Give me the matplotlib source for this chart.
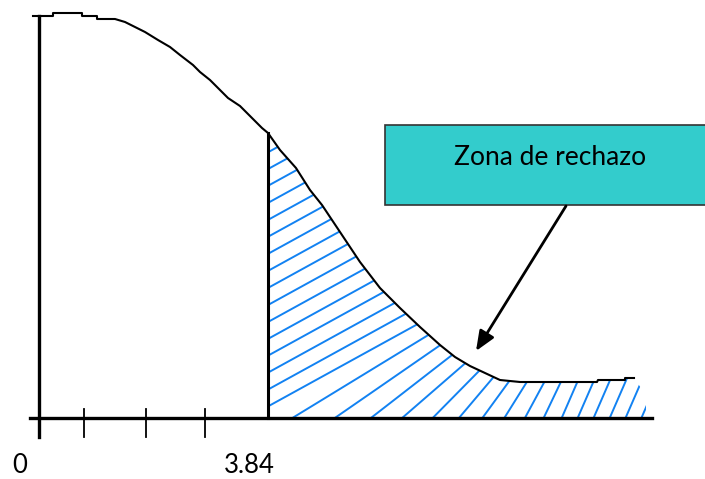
import numpy as np
import matplotlib.pyplot as plt
from matplotlib.patches import Polygon, Rectangle

curve_x = [33, 53, 53, 82, 82, 97, 97, 115, 125, 135, 145, 158, 170, 180, 193, 200, 210,
           220, 228, 240, 252, 262, 268, 280, 296, 310, 322, 340, 360, 380, 400, 420,
           440, 455, 470, 485, 500, 520, 597, 598, 625, 625, 634]
curve_y = [16, 16, 13, 13, 16, 16, 19, 19, 22, 27, 32, 40, 47, 55, 65, 72, 80,
           90, 98, 106, 118, 128, 133, 150, 168, 190, 205, 232, 262, 288, 308, 327,
           345, 357, 366, 373, 380, 382, 382, 380, 380, 378, 378]

critical_x = 268          # position of 3.84
baseline_y = 418
axis_x = 39
tick_x = [39, 84, 146, 205]
tick_labels = ['0', '3.84']
tick_label_x = [20, 249]
box_text = 'Zona de rechazo'

# hatch slope (rise/run) against x of where the hatch line meets the curve
hatch_slope_x = [420, 470, 520, 575]
hatch_slope_s = [0.55, 0.9, 1.5, 2.3]
hatch_gap = 14.5
hatch_color = '#1282F2'

fig = plt.figure(figsize=(7.05, 4.79), dpi=100)
ax = fig.add_axes([0, 0, 1, 1])
ax.set_xlim(0, 705)
ax.set_ylim(479, 0)
ax.axis('off')

# rejection region: curve right of 3.84 plus the small hatched tail
cx = np.array(curve_x, dtype=float)
cy = np.array(curve_y, dtype=float)
keep = cx >= critical_x
top_x = np.concatenate([cx[keep], [641, 646, 646]])
top_y = np.concatenate([cy[keep], [388, 400, baseline_y]])
poly_pts = [(critical_x, baseline_y)] + list(zip(top_x, top_y))
region = Polygon(poly_pts, closed=True, facecolor='none', edgecolor='none')
ax.add_patch(region)

# dense walk along the upper edge, dropping a hatch line every hatch_gap
seg_len = np.hypot(np.diff(top_x), np.diff(top_y))
arc = np.concatenate([[0], np.cumsum(seg_len)])
walk = np.arange(2, arc[-1], 0.5)
wx = np.interp(walk, arc, top_x)
wy = np.interp(walk, arc, top_y)

last = None
for px, py in zip(wx, wy):
    s = np.interp(px, hatch_slope_x, hatch_slope_s)
    d = np.array([1.0, -s]) / np.hypot(1.0, s)
    if last is not None:
        lx, ly, ld = last
        dist = abs((px - lx) * ld[1] - (py - ly) * ld[0])
        if dist < hatch_gap:
            continue
    last = (px, py, d)
    xs = [px + 2 * d[0], px - 700 * d[0]]
    ys = [py + 2 * d[1], py - 700 * d[1]]
    ln, = ax.plot(xs, ys, color=hatch_color, lw=1.4, solid_capstyle='butt')
    ln.set_clip_path(region)

# curve, critical line and axes
ax.plot(curve_x, curve_y, color='black', lw=1.5)
ax.plot([critical_x, critical_x], [133, baseline_y], color='black', lw=2.2)
ax.plot([30, 652], [baseline_y, baseline_y], color='black', lw=2.4)
ax.plot([axis_x, axis_x], [16, 437], color='black', lw=2.4)
for tx in tick_x[1:]:
    ax.plot([tx, tx], [409, 437], color='black', lw=1.3)

for lab, lx in zip(tick_labels, tick_label_x):
    ax.text(lx, 473, lab, ha='center', va='baseline', fontsize=18.5, family='Lato')

# text box and arrow
ax.add_patch(Rectangle((385, 125), 330, 80, facecolor='#33CCCC', edgecolor='#333333', lw=1.2))
ax.text(550, 165, box_text, ha='center', va='baseline', fontsize=19, family='Lato')
ax.annotate('', xy=(476, 351), xytext=(566, 206),
            arrowprops=dict(arrowstyle='-|>,head_length=1.2,head_width=0.5',
                            color='black', lw=2, shrinkA=0, shrinkB=0))

fig.savefig('out.png', dpi=100)
